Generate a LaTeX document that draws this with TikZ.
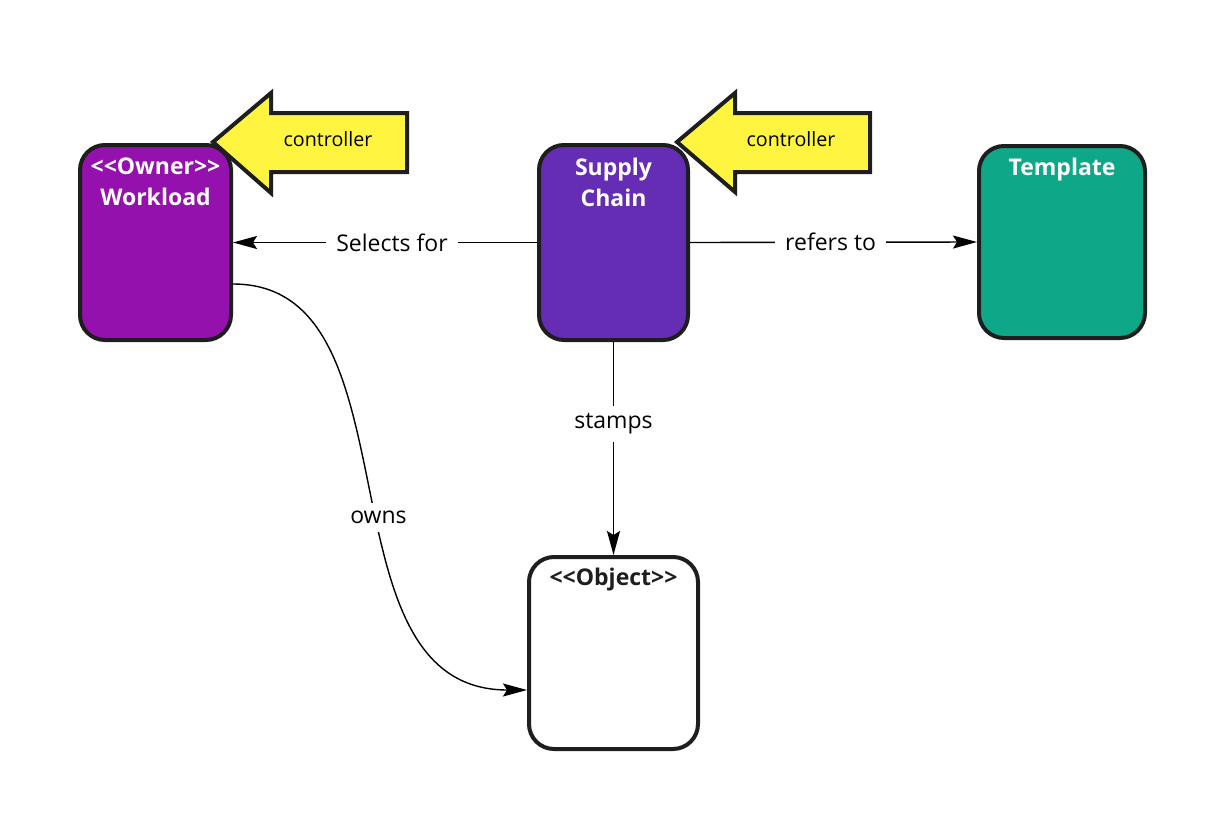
\documentclass[tikz,border=0pt]{standalone}
\usepackage{fontspec}
\setmainfont{Open Sans}[Ligatures=TeXOff]
\usetikzlibrary{arrows.meta}
\definecolor{wlpurple}{HTML}{9511AE}
\definecolor{scpurple}{HTML}{652DB3}
\definecolor{tpgreen}{HTML}{0EA888}
\definecolor{ctlyellow}{HTML}{FFF440}
\definecolor{edge}{HTML}{1E1E1E}
\tikzset{
  box/.style={draw=edge, line width=4pt, rounded corners=25pt, inner sep=0pt},
  title/.style={text=white, font=\bfseries\fontsize{23}{31}\selectfont, align=center, anchor=north, inner sep=0pt},
  conn/.style={draw=black, line width=1.4pt, -{Stealth[length=24pt,width=13pt,inset=4pt]}},
  lbl/.style={fill=white, font=\fontsize{23}{28}\selectfont, inner xsep=10pt, inner ysep=8pt},
  ctlarrow/.style={fill=ctlyellow, draw=edge, line width=4pt, line join=miter},
  ctltext/.style={font=\fontsize{19.7}{22}\selectfont, text=black, inner sep=0pt}
}
\begin{document}
\begin{tikzpicture}[x=1pt,y=-1pt]
\useasboundingbox (0,0) rectangle (1227,814);
% boxes
\node[box, fill=wlpurple, minimum width=151pt, minimum height=195pt] (wl) at (155.5,242.5) {};
\node[box, fill=scpurple, minimum width=149pt, minimum height=195pt] (sc) at (613.5,242.5) {};
\node[box, fill=tpgreen, minimum width=166pt, minimum height=192pt] (tp) at (1062,242) {};
\node[box, fill=white, minimum width=169pt, minimum height=192pt] (obj) at (613.5,653) {};
% titles
\node[title] (wlt) at ([yshift=-14.5pt]wl.north) {<<Owner>>\\Workload};
\node[title] (sct) at ([yshift=-14.5pt]sc.north) {Supply\\Chain};
\node[title] (tpt) at ([yshift=-14pt]tp.north) {Template};
\node[title, text=edge] (objt) at ([yshift=-13pt]obj.north) {<<Object>>};
% controller arrows
\draw[ctlarrow] (213,142) -- (271,93) -- (271,113) -- (407,113) -- (407,172) -- (271,172) -- (271,193) -- cycle;
\node[ctltext] (ctl1) at (328,139) {controller};
\draw[ctlarrow] (677,142) -- (735,93) -- (735,113) -- (870,113) -- (870,172) -- (735,172) -- (735,192) -- cycle;
\node[ctltext] (ctl2) at (791,139) {controller};
% connectors
\draw[conn] (sc.west) -- node[lbl, pos=0.477] (lsel) {Selects for} (wl.east);
\draw[conn] (sc.east) -- node[lbl, pos=0.49] (lref) {refers to} (tp.west);
\draw[conn] (sc.south) -- node[lbl, pos=0.385, inner xsep=4pt] (lst) {stamps} (obj.north);
\draw[conn] ([yshift=-41.5pt]wl.east) .. controls +(190,0) and +(-213,0) .. node[lbl, pos=0.55, inner xsep=4pt] (lown) {owns} ([yshift=-37pt]obj.west);
\end{tikzpicture}
\end{document}
